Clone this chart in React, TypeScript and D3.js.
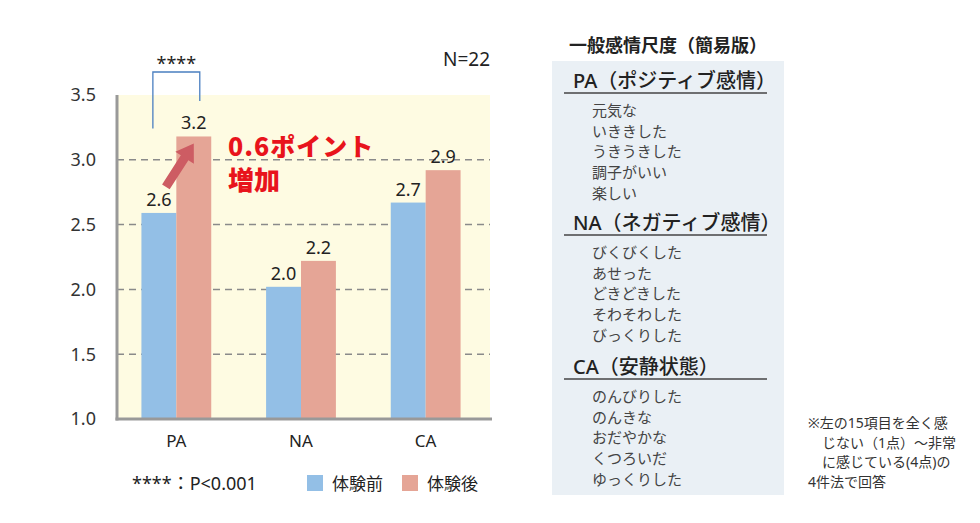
import React from "react";
import * as d3 from "d3";

const categories = ["PA", "NA", "CA"];
const seriesNames = ["体験前", "体験後"];
const beforeValues = [2.59, 2.02, 2.67];
const afterValues = [3.18, 2.22, 2.92];
const beforeLabels = ["2.6", "2.0", "2.7"];
const afterLabels = ["3.2", "2.2", "2.9"];
const yTicks = [1.0, 1.5, 2.0, 2.5, 3.0, 3.5];
const panelTitle = "一般感情尺度（簡易版）";
const sections = [
  { head: "PA（ポジティブ感情）", items: ["元気な", "いききした", "うきうきした", "調子がいい", "楽しい"] },
  { head: "NA（ネガティブ感情）", items: ["びくびくした", "あせった", "どきどきした", "そわそわした", "びっくりした"] },
  { head: "CA（安静状態）", items: ["のんびりした", "のんきな", "おだやかな", "くつろいだ", "ゆっくりした"] },
];
const noteLines = ["※左の15項目を全く感", "じない（1点）～非常", "に感じている(4点)の", "4件法で回答"];

const FONT = "'Noto Sans', 'Noto Sans CJK JP', sans-serif";
const BLUE = "#93bfe6";
const PINK = "#e5a596";

export default function App() {
  const x = d3.scaleBand<string>().domain(categories).range([114, 488]).paddingInner(0.44).paddingOuter(0.22);
  const y = d3.scaleLinear().domain([1, 3.5]).range([419, 95]);
  const sub = d3.scaleBand<string>().domain(seriesNames).range([0, x.bandwidth()]);
  const bw = sub.bandwidth();

  const bx = (x("PA") as number) + (sub("体験前") as number) + bw / 2;
  const ax = (x("PA") as number) + (sub("体験後") as number) + bw / 2;
  const tail = [bx + 7, y(beforeValues[0]) - 26];
  const tip = [ax, y(afterValues[0]) + 7];
  const dx = tip[0] - tail[0], dy = tip[1] - tail[1];
  const len = Math.hypot(dx, dy);
  const ux = dx / len, uy = dy / len, nx = -uy, ny = ux;
  const sw = 4.5, hw = 11, hl = 17;
  const hb = [tip[0] - ux * hl, tip[1] - uy * hl];
  const arrowPts = [
    [tail[0] + nx * sw, tail[1] + ny * sw],
    [hb[0] + nx * sw, hb[1] + ny * sw],
    [hb[0] + nx * hw, hb[1] + ny * hw],
    tip,
    [hb[0] - nx * hw, hb[1] - ny * hw],
    [hb[0] - nx * sw, hb[1] - ny * sw],
    [tail[0] - nx * sw, tail[1] - ny * sw],
  ].map((p) => p.join(",")).join(" ");

  const bl = bx - 6;
  const br = ax + 6;

  const headYs = [88, 230, 374];

  return (
    <svg width={980} height={523} style={{ position: "absolute", left: 0, top: 0, fontFamily: FONT }}>
      <rect width={980} height={523} fill="#fff" />
      <rect x={117} y={y(3.5)} width={373} height={y(1) - y(3.5)} fill="#fefbe2" />
      {yTicks.filter((t) => t > 1 && t < 3.5).map((t) => (
        <line key={t} x1={117} x2={490} y1={y(t)} y2={y(t)} stroke="#8a8a8a" strokeWidth={1.5} strokeDasharray="7,5" />
      ))}
      {yTicks.map((t) => (
        <text key={t} x={96} y={y(t)} dy="0.36em" textAnchor="end" fontSize={18} fill="#333">{t.toFixed(1)}</text>
      ))}
      {categories.map((c, i) => (
        <g key={c}>
          <rect x={(x(c) as number) + (sub("体験前") as number)} y={y(beforeValues[i])} width={bw} height={y(1) - y(beforeValues[i])} fill={BLUE} />
          <rect x={(x(c) as number) + (sub("体験後") as number)} y={y(afterValues[i])} width={bw} height={y(1) - y(afterValues[i])} fill={PINK} />
          <text x={(x(c) as number) + (sub("体験前") as number) + bw / 2} y={y(beforeValues[i]) - 7} textAnchor="middle" fontSize={18} fill="#222">{beforeLabels[i]}</text>
          <text x={(x(c) as number) + (sub("体験後") as number) + bw / 2} y={y(afterValues[i]) - 7} textAnchor="middle" fontSize={18} fill="#222">{afterLabels[i]}</text>
          <text x={(x(c) as number) + x.bandwidth() / 2} y={447} textAnchor="middle" fontSize={17} fill="#222">{c}</text>
        </g>
      ))}
      <line x1={117} x2={117} y1={y(3.5)} y2={y(1) + 1.5} stroke="#999" strokeWidth={3} />
      <line x1={115.5} x2={492} y1={y(1)} y2={y(1)} stroke="#999" strokeWidth={3} />
      <path d={`M${bl},${y(afterValues[0]) - 8} V72 H${br} V101`} fill="none" stroke="#4a7fc0" strokeWidth={1.3} />
      <text x={(bl + br) / 2} y={70} textAnchor="middle" fontSize={18} fill="#222">****</text>
      <text x={490} y={66} textAnchor="end" fontSize={19} fill="#222">N=22</text>
      <polygon points={arrowPts} fill="#cd5c63" />
      <text x={228} y={156} fontSize={25} fontWeight={900} letterSpacing={1} fill="#e8141c" fontFamily="'Noto Sans CJK JP', sans-serif">0.6ポイント</text>
      <text x={228} y={190} fontSize={26} fontWeight={900} fill="#e8141c" fontFamily="'Noto Sans CJK JP', sans-serif">増加</text>
      <text x={132} y={490} fontSize={18} fill="#222">****：P&lt;0.001</text>
      <rect x={307} y={475} width={16} height={16} fill={BLUE} />
      <text x={332} y={490} fontSize={17} fill="#222">{seriesNames[0]}</text>
      <rect x={402} y={475} width={16} height={16} fill={PINK} />
      <text x={427} y={490} fontSize={17} fill="#222">{seriesNames[1]}</text>
      <text x={668} y={52} textAnchor="middle" fontSize={18} fontWeight={700} fill="#222">{panelTitle}</text>
      <rect x={552} y={61} width={232} height={434} fill="#eaf0f5" />
      {sections.map((s, si) => (
        <g key={si}>
          <text x={573} y={headYs[si]} fontSize={20} fontWeight={500} fill="#222">{s.head}</text>
          <line x1={564} x2={767} y1={headYs[si] + 5} y2={headYs[si] + 5} stroke="#444" strokeWidth={1.5} />
          {s.items.map((it, i) => (
            <text key={i} x={592} y={headYs[si] + 28 + i * 20.7} fontSize={15} fill="#444">{it}</text>
          ))}
        </g>
      ))}
      {noteLines.map((l, i) => (
        <text key={i} x={i === 0 || i === 3 ? 808 : 822} y={428 + i * 19.5} fontSize={14} fill="#333">{l}</text>
      ))}
    </svg>
  );
}
